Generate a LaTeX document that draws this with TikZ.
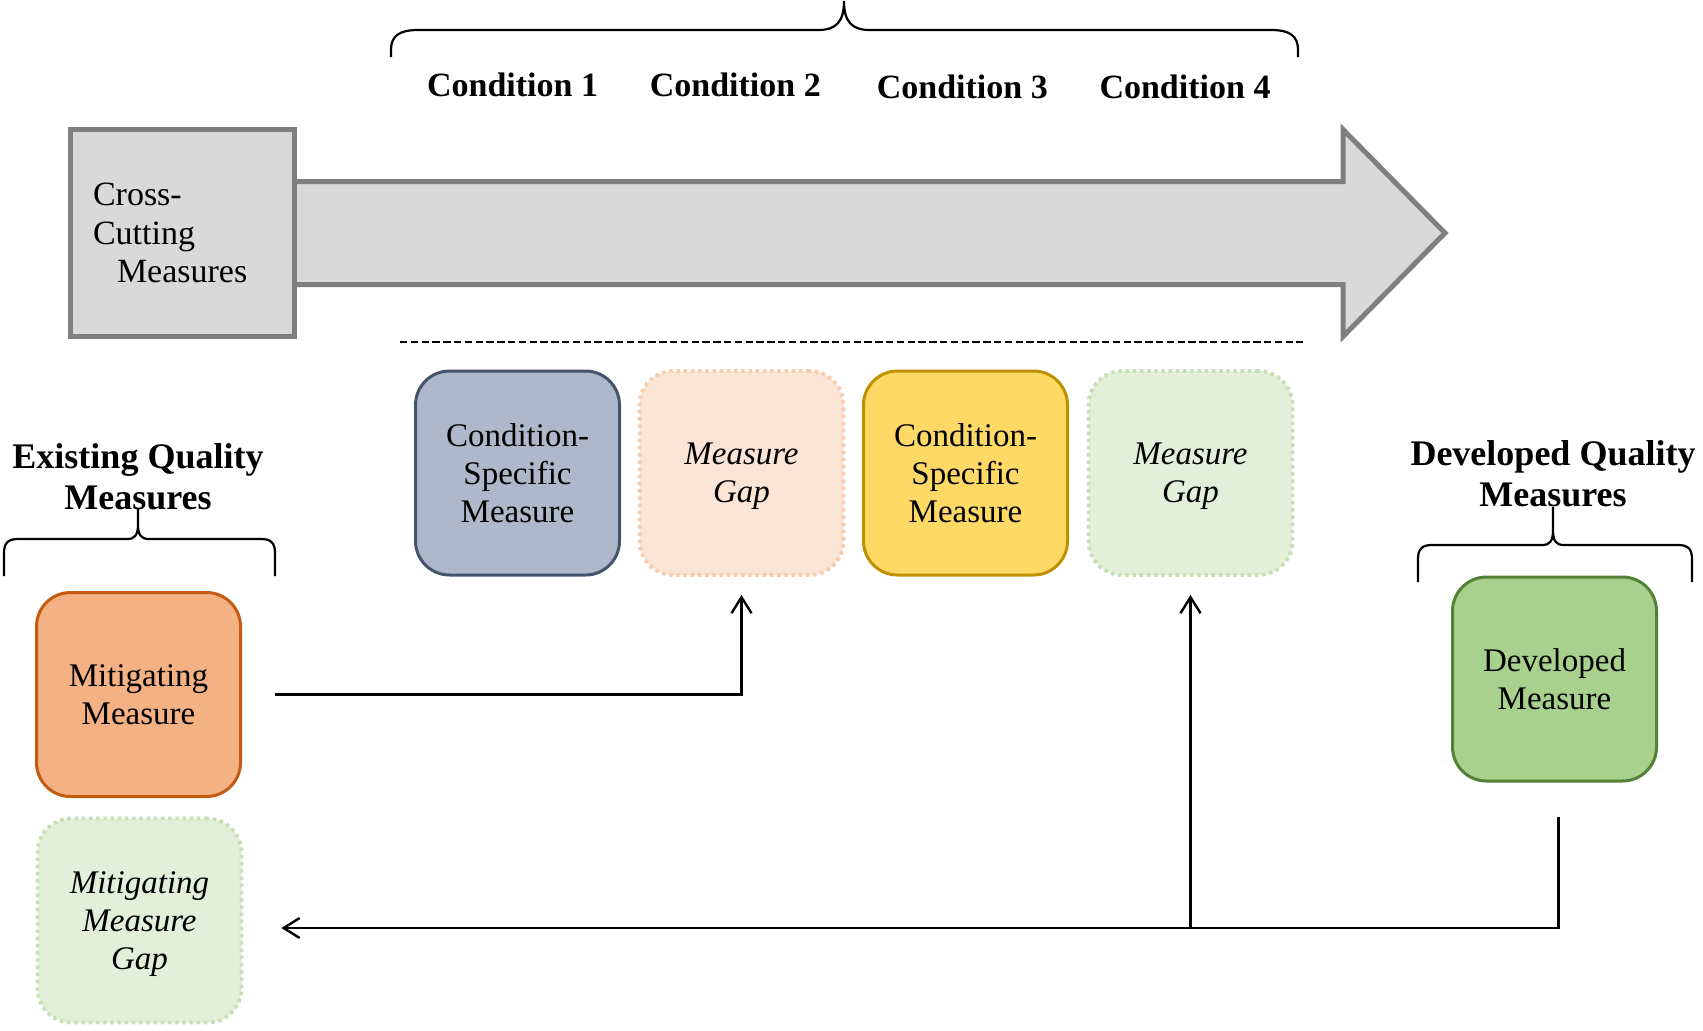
\documentclass[tikz,border=0pt]{standalone}
\usepackage{fontspec}
\setmainfont{Liberation Serif}
\usetikzlibrary{arrows.meta,calc}

\definecolor{csfill}{HTML}{ADB9CA}
\definecolor{csdraw}{HTML}{44546A}
\definecolor{peachfill}{HTML}{FBE5D6}
\definecolor{peachdraw}{HTML}{F8CBAD}
\definecolor{yelfill}{HTML}{FFD966}
\definecolor{yeldraw}{HTML}{BF9000}
\definecolor{paleg}{HTML}{E2F0D9}
\definecolor{palegdraw}{HTML}{C5E0B4}
\definecolor{orfill}{HTML}{F4B183}
\definecolor{ordraw}{HTML}{C55A11}
\definecolor{devfill}{HTML}{A9D18E}
\definecolor{devdraw}{HTML}{538135}
\definecolor{grfill}{HTML}{D9D9D9}
\definecolor{grdraw}{HTML}{7F7F7F}

\begin{document}
\begin{tikzpicture}[x=0.5pt,y=-0.5pt,
  mbox/.style={rounded corners=17pt, minimum width=102pt, minimum height=102pt,
    inner sep=0pt, align=center, line width=1.5pt,
    font=\fontsize{16.5}{19}\selectfont},
  solidbox/.style 2 args={mbox, fill=#1, draw=#2},
  gapbox/.style 2 args={mbox, fill=#1, draw=#2, line width=1.9pt,
    dash pattern=on 1.7pt off 1.9pt, text depth=0pt,
    font=\fontsize{16.5}{19}\selectfont\itshape},
  header/.style={align=center, font=\fontsize{18}{20.5}\selectfont\bfseries},
  condlabel/.style={font=\fontsize{17}{20}\selectfont\bfseries},
  brace/.style={draw, line width=1.1pt},
  conn/.style={draw, line width=1.2pt, -{Straight Barb[length=8pt,width=10pt]}},
  graybox/.style={fill=grfill, draw=grdraw, line width=2.5pt},
]
\useasboundingbox (0,0) rectangle (1703,1030);

% big gray arrow behind the cross-cutting box
\draw[graybox, line join=miter]
  (200,181.5) -- (1343,181.5) -- (1343,129.5) -- (1445,233)
  -- (1343,336.5) -- (1343,284.5) -- (200,284.5) -- cycle;

\node[graybox, minimum width=112pt, minimum height=103.5pt, inner sep=0pt,
  text width=89.5pt, align=left, font=\fontsize{17}{19.3}\selectfont]
  (cc) at (182.5,233) {Cross-\\Cutting\\\hspace*{12pt}Measures};

% top brace over the conditions
\path[brace] (391,57) -- (391,50) .. controls (391,36) and (399,30) .. (418,30)
  -- (818,30) .. controls (836,30) and (844,22) .. (844,1)
  .. controls (844,22) and (852,30) .. (870,30)
  -- (1271,30) .. controls (1290,30) and (1298,36) .. (1298,50) -- (1298,57);

\node[condlabel] (c1) at (512.6,85) {Condition 1};
\node[condlabel] (c2) at (735.3,85) {Condition 2};
\node[condlabel] (c3) at (962.3,87) {Condition 3};
\node[condlabel] (c4) at (1185,87) {Condition 4};

% separator under the arrow
\draw[line width=1pt, dash pattern=on 3.7pt off 1.7pt] (400,342) -- (1303,342);

% condition-specific row
\node[solidbox={csfill}{csdraw}] (cs1) at (517.5,473) {Condition-\\Specific\\Measure};
\node[gapbox={peachfill}{peachdraw}] (gap1) at (741.5,473) {Measure\\Gap};
\node[solidbox={yelfill}{yeldraw}] (cs2) at (965.5,473) {Condition-\\Specific\\Measure};
\node[gapbox={paleg}{palegdraw}] (gap2) at (1190.5,473) {Measure\\Gap};

% existing quality measures
\node[header] (exq) at (138,477) {Existing Quality\\Measures};
\path[brace] (4,576) -- (4,553) .. controls (4,543) and (8,539) .. (18,539)
  -- (127,539) .. controls (135,539) and (138,535) .. (138,524) -- (138,509)
  -- (138,524) .. controls (138,535) and (141,539) .. (149,539)
  -- (261,539) .. controls (271,539) and (275,543) .. (275,553) -- (275,576);
\node[solidbox={orfill}{ordraw}] (mit) at (138.5,694.5) {Mitigating\\Measure};
\node[gapbox={paleg}{palegdraw}] (mmgap) at (139.5,920.5) {Mitigating\\Measure\\Gap};

% developed quality measures
\node[header] (devq) at (1553,474) {Developed Quality\\Measures};
\path[brace] (1418,582) -- (1418,559) .. controls (1418,549) and (1422,545) .. (1432,545)
  -- (1542,545) .. controls (1550,545) and (1553,541) .. (1553,530) -- (1553,507)
  -- (1553,530) .. controls (1553,541) and (1556,545) .. (1564,545)
  -- (1678,545) .. controls (1688,545) and (1692,549) .. (1692,559) -- (1692,582);
\node[solidbox={devfill}{devdraw}] (dev) at (1554.5,679) {Developed\\Measure};

% connectors
\coordinate (rail) at (1558,928);
\draw[conn, shorten <=16.5pt, shorten >=9pt] (mit.east) -| (gap1.south);
\draw[conn, shorten <=17pt, shorten >=19pt] ([xshift=2pt]dev.south) |- (mmgap.east |- rail);
\draw[conn, shorten >=9pt] (gap2.south |- rail) -- (gap2.south);
\end{tikzpicture}
\end{document}
